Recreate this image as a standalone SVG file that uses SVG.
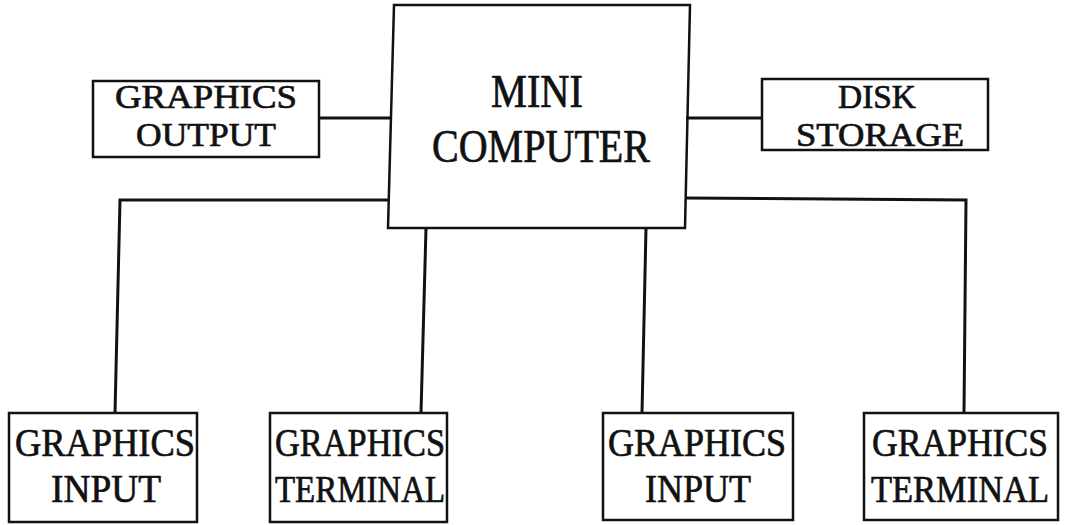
<svg xmlns="http://www.w3.org/2000/svg" width="1065" height="525" viewBox="0 0 1065 525">
<style>
.box{fill:none;stroke:#111;stroke-width:2.5;stroke-linejoin:miter}
.conn{fill:none;stroke:#111;stroke-width:3;stroke-linejoin:miter}
text{font-family:"Liberation Serif","DejaVu Serif",serif;fill:#111;stroke:#111;stroke-width:0.7;text-anchor:middle}
.big{font-size:46px}
.mid{font-size:34px}
.sm{font-size:39px}
.smt{font-size:37px}
</style>
<rect width="1065" height="525" fill="#fff"/>
<g id="connectors">
<line class="conn" x1="319" y1="118" x2="391" y2="118"/>
<line class="conn" x1="686" y1="118" x2="762" y2="118"/>
<path class="conn" d="M389,200 L120,200 L115,413"/>
<line class="conn" x1="426" y1="228" x2="421" y2="413"/>
<line class="conn" x1="646" y1="228" x2="642" y2="413"/>
<path class="conn" d="M685,198 L966,200 L964,413"/>
</g>
<g id="mini-computer">
<path class="box" d="M394,5 L690,5 L685,228 L388,228 Z"/>
<text class="big" x="537" y="107" textLength="92" lengthAdjust="spacingAndGlyphs">MINI</text>
<text class="big" x="541" y="162" textLength="218" lengthAdjust="spacingAndGlyphs">COMPUTER</text>
</g>
<g id="graphics-output">
<rect class="box" x="93" y="81" width="226" height="76"/>
<text class="mid" x="206" y="108" textLength="182" lengthAdjust="spacingAndGlyphs">GRAPHICS</text>
<text class="mid" x="206" y="146" textLength="140" lengthAdjust="spacingAndGlyphs">OUTPUT</text>
</g>
<g id="disk-storage">
<rect class="box" x="762" y="79" width="226" height="71"/>
<text class="mid" x="877" y="108" textLength="78" lengthAdjust="spacingAndGlyphs">DISK</text>
<text class="mid" x="880" y="146" textLength="168" lengthAdjust="spacingAndGlyphs">STORAGE</text>
</g>
<g id="graphics-input-1">
<rect class="box" x="9" y="413" width="188" height="109"/>
<text class="sm" x="105" y="456" textLength="180" lengthAdjust="spacingAndGlyphs">GRAPHICS</text>
<text class="sm" x="106" y="502" textLength="110" lengthAdjust="spacingAndGlyphs">INPUT</text>
</g>
<g id="graphics-terminal-1">
<rect class="box" x="270" y="413" width="177" height="109"/>
<text class="sm" x="360" y="456" textLength="170" lengthAdjust="spacingAndGlyphs">GRAPHICS</text>
<text class="smt" x="360" y="502" textLength="170" lengthAdjust="spacingAndGlyphs">TERMINAL</text>
</g>
<g id="graphics-input-2">
<rect class="box" x="603" y="413" width="190" height="107"/>
<text class="sm" x="697" y="456" textLength="178" lengthAdjust="spacingAndGlyphs">GRAPHICS</text>
<text class="sm" x="698" y="502" textLength="106" lengthAdjust="spacingAndGlyphs">INPUT</text>
</g>
<g id="graphics-terminal-2">
<rect class="box" x="864" y="413" width="194" height="107"/>
<text class="sm" x="960" y="456" textLength="176" lengthAdjust="spacingAndGlyphs">GRAPHICS</text>
<text class="smt" x="960" y="502" textLength="178" lengthAdjust="spacingAndGlyphs">TERMINAL</text>
</g>
</svg>
